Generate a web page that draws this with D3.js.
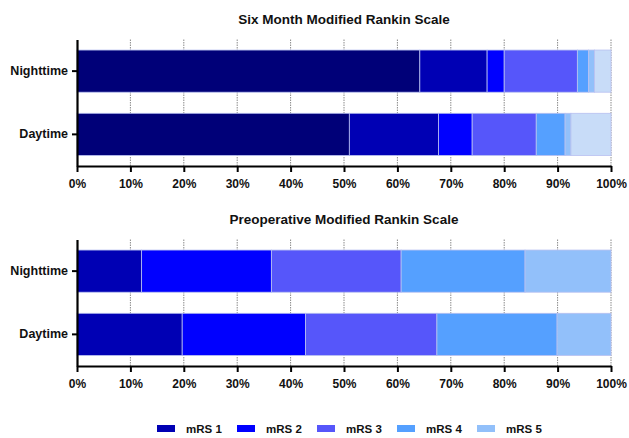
<!DOCTYPE html>
<html>
<head>
<meta charset="utf-8">
<script src="https://cdn.jsdelivr.net/npm/d3@7"></script>
<style>
  html, body { margin: 0; padding: 0; background: #fff; }
  svg text { font-family: "Liberation Sans", Arial, sans-serif; font-weight: bold; fill: #111; }
</style>
</head>
<body>
<svg id="chart" width="629" height="438"></svg>
<script>
// Groups shown on each bar chart
const groups = ["Nighttime", "Daytime"];

// Six month outcome, percentage of patients per mRS grade (0–6)
const sixMonthKeys = ["mRS 0", "mRS 1", "mRS 2", "mRS 3", "mRS 4", "mRS 5", "mRS 6"];
const sixMonthNight = [64.2, 12.6, 3.2, 13.7, 2.1, 1.1, 3.1];
const sixMonthDay   = [51.0, 16.7, 6.3, 12.0, 5.4, 1.1, 7.5];

// Preoperative status, percentage of patients per mRS grade (1–5)
const preopKeys = ["mRS 1", "mRS 2", "mRS 3", "mRS 4", "mRS 5"];
const preopNight = [12.1, 24.3, 24.3, 23.2, 16.1];
const preopDay   = [19.7, 23.1, 24.6, 22.5, 10.1];

// Axis ticks and legend entries
const xTicks = [0, 10, 20, 30, 40, 50, 60, 70, 80, 90, 100];
const legendKeys = ["mRS 1", "mRS 2", "mRS 3", "mRS 4", "mRS 5"];

const colors = {
  "mRS 0": "#000078",
  "mRS 1": "#0000b4",
  "mRS 2": "#0000ff",
  "mRS 3": "#5656fa",
  "mRS 4": "#55a0ff",
  "mRS 5": "#92c0fa",
  "mRS 6": "#c8dcf8"
};

const svg = d3.select("#chart");
const x = d3.scaleLinear().domain([0, 100]).range([77, 611]);

function drawPanel(title, keys, rows, top) {
  const bottom = top + 126.5;
  const g = svg.append("g");
  const y = d3.scaleBand().domain(groups).range([top, bottom])
    .paddingInner(1 / 3).paddingOuter(1 / 6);

  // title
  g.append("text")
    .attr("x", (x.range()[0] + x.range()[1]) / 2)
    .attr("y", top - 16)
    .attr("text-anchor", "middle")
    .attr("font-size", 13.5)
    .text(title);

  // dotted vertical grid
  g.selectAll("line.grid").data(xTicks.slice(1)).join("line")
    .attr("class", "grid")
    .attr("x1", d => x(d)).attr("x2", d => x(d))
    .attr("y1", top).attr("y2", bottom)
    .attr("stroke", "#8a8a8a")
    .attr("stroke-width", 1)
    .attr("stroke-dasharray", "1.5,1");

  // stacked segments
  const table = groups.map((grp, i) => {
    const o = { group: grp };
    keys.forEach((k, j) => { o[k] = rows[i][j]; });
    return o;
  });
  const series = d3.stack().keys(keys)(table);
  g.selectAll("g.series").data(series).join("g")
    .attr("class", "series")
    .attr("fill", s => colors[s.key])
    .selectAll("rect").data(s => s).join("rect")
      .attr("x", d => x(d[0]))
      .attr("width", d => x(d[1]) - x(d[0]))
      .attr("y", d => y(d.data.group))
      .attr("height", y.bandwidth())
      .attr("stroke", "#b8c0f0")
      .attr("stroke-width", 0.8);

  // x axis
  const xAxis = d3.axisBottom(x).tickValues(xTicks)
    .tickFormat(d => d + "%").tickSize(6).tickSizeOuter(0);
  const xa = g.append("g").attr("transform", `translate(0,${bottom})`).call(xAxis);
  xa.select(".domain").attr("stroke", "#000").attr("stroke-width", 2.2);
  xa.selectAll(".tick line").attr("stroke", "#000").attr("stroke-width", 2);
  xa.selectAll(".tick text").attr("font-size", 12).attr("dy", "1.05em")
    .attr("font-family", "Liberation Sans, Arial, sans-serif").attr("font-weight", "bold").attr("fill", "#111");

  // y axis
  const yAxis = d3.axisLeft(y).tickSize(5).tickSizeOuter(0).tickPadding(4);
  const ya = g.append("g").attr("transform", `translate(${x(0)},0)`).call(yAxis);
  ya.select(".domain").attr("stroke", "#000").attr("stroke-width", 2.2);
  ya.selectAll(".tick line").attr("stroke", "#000").attr("stroke-width", 2);
  ya.selectAll(".tick text").attr("font-size", 12.5)
    .attr("font-family", "Liberation Sans, Arial, sans-serif").attr("font-weight", "bold").attr("fill", "#111");
}

drawPanel("Six Month Modified Rankin Scale", sixMonthKeys, [sixMonthNight, sixMonthDay], 39.5);
drawPanel("Preoperative Modified Rankin Scale", preopKeys, [preopNight, preopDay], 239.5);

// legend
const legend = svg.append("g");
const lx = d3.scalePoint().domain(legendKeys).range([157, 477]);
const items = legend.selectAll("g").data(legendKeys).join("g")
  .attr("transform", d => `translate(${lx(d)},428.5)`);
items.append("rect")
  .attr("x", 0).attr("y", -3.5).attr("width", 18).attr("height", 7)
  .attr("fill", d => colors[d]);
items.append("text")
  .attr("x", 29).attr("y", 0).attr("dy", "0.35em")
  .attr("font-size", 11.5)
  .text(d => d);
</script>
</body>
</html>
